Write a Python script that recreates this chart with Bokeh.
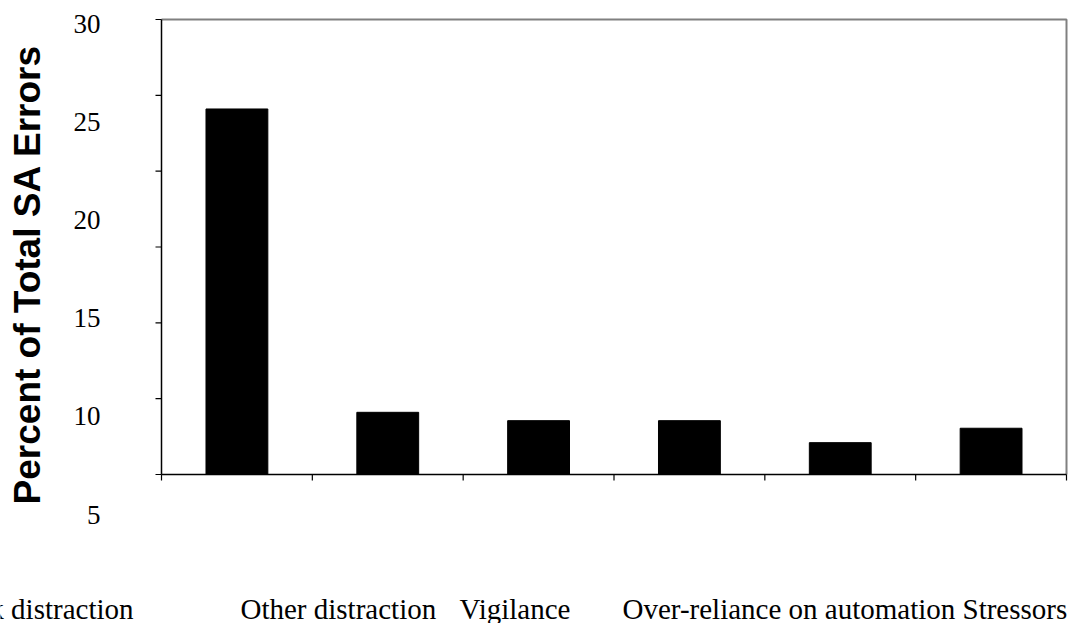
from bokeh.plotting import figure
from bokeh.models import Range1d, ColumnDataSource
from bokeh.core.properties import value
from bokeh.embed import file_html
from bokeh.resources import INLINE

# ---- data ----
values = [24.1, 4.1, 3.55, 3.55, 2.1, 3.05]
x_labels = ["Task distraction", "Other distraction", "Vigilance",
            "Over-reliance on automation", "Stressors"]
y_ticks = [0, 5, 10, 15, 20, 25, 30]
y_tick_labels = ["30", "25", "20", "15", "10", "5"]
y_title = "Percent of Total SA Errors"

# ---- layout constants (pixels on the canvas) ----
W, H = 1068, 623
PLOT_L, PLOT_R, PLOT_T, PLOT_B = 161, 1066, 19, 474
TICK = 6
YLAB_RIGHT = 100                  # right edge of printed y labels
YLAB_TOP, YLAB_STEP = 23.5, 98.1  # printed y labels: centre of first, spacing
XLAB_MID = 608                    # vertical centre of printed category labels
XLAB_STARTS = [-51, 240, 459, 622, 962]
TITLE_X, TITLE_Y = 26.5, 274
serif = "Liberation Serif"
sans = "Liberation Sans"

n = len(values)
ymax = y_ticks[-1]
sx = (PLOT_R - PLOT_L) / n          # px per category
sy = (PLOT_B - PLOT_T) / ymax       # px per percent

def dx(px):  # canvas x -> data x
    return (px - PLOT_L) / sx

def dy(py):  # canvas y -> data y
    return (PLOT_B - py) / sy

p = figure(width=W, height=H, output_backend="svg", toolbar_location=None,
           x_range=Range1d(dx(0), dx(W)), y_range=Range1d(dy(H), dy(0)),
           x_axis_location=None, y_axis_location=None, min_border=0)
p.title.visible = False
p.grid.visible = False
p.outline_line_color = None
p.background_fill_color = "white"
p.border_fill_color = "white"

# bars
src = ColumnDataSource(dict(x=[i + 0.5 for i in range(n)], top=values))
p.vbar(x="x", top="top", bottom=0, width=0.41, source=src,
       fill_color="black", line_color="black", line_width=1)

# plot border: grey top/right, black axes left/bottom
p.line(x=[0, n, n], y=[ymax, ymax, 0], line_color="#808080", line_width=2)
p.line(x=[0, 0], y=[0, ymax], line_color="black", line_width=1.5)
p.line(x=[0, n], y=[0, 0], line_color="black", line_width=1.5)

# ticks
p.segment(x0=[0] * len(y_ticks), y0=y_ticks, x1=[-TICK / sx] * len(y_ticks), y1=y_ticks,
          line_color="black", line_width=1.2)
xt = list(range(n + 1))
p.segment(x0=xt, y0=[0] * len(xt), x1=xt, y1=[-TICK / sy] * len(xt),
          line_color="black", line_width=1.2)

# printed y labels (they sit on their own, offset scale in the reference)
lab_step = 5
lab_px = YLAB_STEP / lab_step
p.extra_y_ranges = {"lab": Range1d(ymax - (H - YLAB_TOP) / lab_px, ymax + YLAB_TOP / lab_px)}
p.text(x=[dx(YLAB_RIGHT)] * len(y_tick_labels), y=[float(t) for t in y_tick_labels],
       text=y_tick_labels, y_range_name="lab",
       text_align="right", text_baseline="middle",
       text_font=value(serif), text_font_size="27px", text_color="black")

# printed category labels
p.text(x=[dx(v) for v in XLAB_STARTS], y=[dy(XLAB_MID)] * len(x_labels), text=x_labels,
       text_align="left", text_baseline="middle",
       text_font=value(serif), text_font_size="29px", text_color="black")

# y title
p.text(x=[dx(TITLE_X)], y=[dy(TITLE_Y)], text=[y_title], angle=90, angle_units="deg",
       text_align="center", text_baseline="middle",
       text_font=value(sans), text_font_style="bold", text_font_size="37px",
       text_color="black")

open("out.html", "w").write(file_html(p, INLINE))
